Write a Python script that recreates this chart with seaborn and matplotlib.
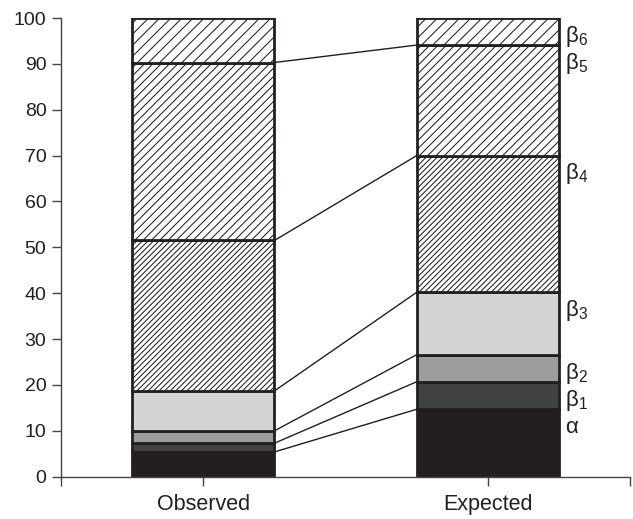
import numpy as np
import pandas as pd
import matplotlib
matplotlib.use("Agg")
import matplotlib.pyplot as plt
import seaborn as sns

# Category and component data (percent of total)
groups = ["Observed", "Expected"]
components = ["α", "β1", "β2", "β3", "β4", "β5", "β6"]
observed = [5.4, 1.9, 2.7, 8.7, 32.8, 38.8, 9.7]
expected = [14.7, 6.0, 5.9, 13.6, 29.8, 24.1, 5.9]
labels = [r"$\mathrm{α}$", r"$\mathrm{β}_1$", r"$\mathrm{β}_2$", r"$\mathrm{β}_3$",
          r"$\mathrm{β}_4$", r"$\mathrm{β}_5$", r"$\mathrm{β}_6$"]

face_colors = ["#231f20", "#404244", "#9c9d9f", "#d3d4d6", "white", "white", "white"]
hatches = [None, None, None, None, "//////", "////", "///"]

sns.set_style("ticks")
plt.rcParams["font.family"] = ["Liberation Sans", "DejaVu Sans"]
plt.rcParams["mathtext.fontset"] = "custom"
plt.rcParams["mathtext.rm"] = "Liberation Sans"
plt.rcParams["mathtext.it"] = "Liberation Sans:italic"
plt.rcParams["hatch.linewidth"] = 0.75
plt.rcParams["hatch.color"] = "#231f20"

ink = "#231f20"

obs = np.array(observed)
exp = np.array(expected)
base_obs = np.concatenate([[0], np.cumsum(obs)[:-1]])
base_exp = np.concatenate([[0], np.cumsum(exp)[:-1]])
top_obs = base_obs + obs
top_exp = base_exp + exp

fig = plt.figure(figsize=(6.33, 5.19), dpi=100)
ax = fig.add_axes([0.0964, 0.0815, 0.899, 0.8838])

bar_w = 0.5
# Stacked segments: one seaborn call per component, stacked via bottom
for i in range(len(components)):
    layer = pd.DataFrame({"group": groups, "share": [obs[i], exp[i]]})
    kws = dict(hatch=hatches[i]) if hatches[i] else {}
    sns.barplot(data=layer, x="group", y="share", order=groups, color=face_colors[i],
                saturation=1, width=bar_w, edgecolor=ink, linewidth=2.0,
                errorbar=None, ax=ax, zorder=2,
                bottom=[base_obs[i], base_exp[i]], **kws)

# Connectors between matching segment tops of the two bars
for i in range(len(components) - 1):
    ax.plot([0 + bar_w / 2, 1 - bar_w / 2], [top_obs[i], top_exp[i]],
            color=ink, lw=1.0, zorder=3, solid_capstyle="butt")

# Component labels beside the Expected bar
for i, lab in enumerate(labels):
    ax.text(1 + bar_w / 2 + 0.022, top_exp[i] - 4.0, lab, fontsize=16,
            color=ink, ha="left", va="center")

ax.set_xlim(-0.5, 1.5)
ax.set_ylim(0, 100)
ax.set_yticks(np.arange(0, 101, 10))
ax.set_xticks([-0.5, 0, 1, 1.5])
ax.set_xticklabels(["", groups[0], groups[1], ""])
ax.set_xlabel("")
ax.set_ylabel("")
ax.tick_params(axis="both", direction="out", length=6.5, width=1.0, color="#444444",
               labelcolor=ink)
ax.tick_params(axis="y", labelsize=14, pad=4)
ax.tick_params(axis="x", labelsize=15.5, pad=6)
for side in ["top", "right"]:
    ax.spines[side].set_visible(False)
for side in ["left", "bottom"]:
    ax.spines[side].set_color("#444444")
    ax.spines[side].set_linewidth(1.0)

fig.savefig("out.png", dpi=100)
